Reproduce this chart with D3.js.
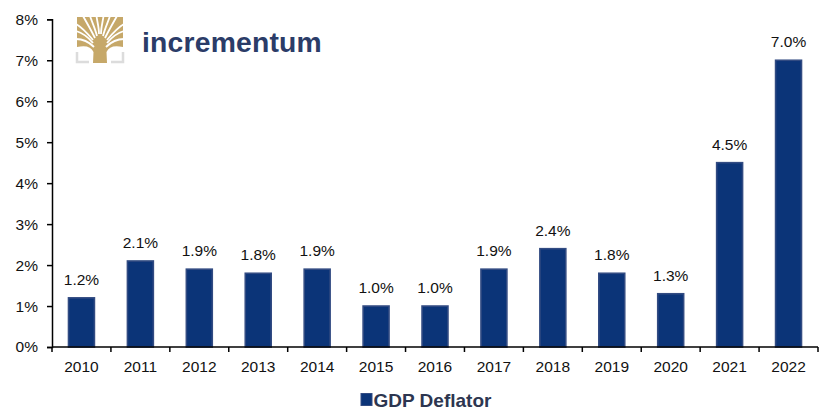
<!DOCTYPE html>
<html><head><meta charset="utf-8">
<script src="https://cdn.jsdelivr.net/npm/d3@7"></script>
<style>
body{margin:0;background:#fff;}
text{font-family:"Liberation Sans",Arial,sans-serif;}
</style></head>
<body><svg id="c" width="831" height="410"></svg>
<script>
const years = ["2010","2011","2012","2013","2014","2015","2016","2017","2018","2019","2020","2021","2022"];
const gdpDeflator = [1.2,2.1,1.9,1.8,1.9,1.0,1.0,1.9,2.4,1.8,1.3,4.5,7.0];
const yTicks = [0,1,2,3,4,5,6,7,8];
const seriesName = "GDP Deflator";

const svg = d3.select("#c");
const plotLeft = 52, plotRight = 818, plotTop = 19.3, plotBottom = 347;
const x = d3.scaleBand().domain(years).range([plotLeft,plotRight]).paddingInner(0.56).paddingOuter(0.28);
const y = d3.scaleLinear().domain([0,8]).range([plotBottom,plotTop]);

// bars
svg.append("g").selectAll("rect").data(gdpDeflator).join("rect")
  .attr("x",(d,i)=>x(years[i]))
  .attr("width",x.bandwidth())
  .attr("y",d=>y(d))
  .attr("height",d=>plotBottom-y(d))
  .attr("fill","#0b3478").attr("stroke","#324b82").attr("stroke-width",1.6);

// labels
svg.append("g").selectAll("text").data(gdpDeflator).join("text")
  .attr("x",(d,i)=>x(years[i])+x.bandwidth()/2)
  .attr("y",d=>y(d)-13)
  .attr("text-anchor","middle").attr("font-size",15.5).attr("fill","#111")
  .text(d=>d.toFixed(1)+"%");

// y axis
const ya = svg.append("g").attr("transform",`translate(${plotLeft},0)`)
  .call(d3.axisLeft(y).tickValues(yTicks).tickSize(5).tickPadding(9).tickFormat(d=>d+"%"));
ya.select(".domain").attr("stroke","#000").attr("stroke-width",1.5);
ya.selectAll(".tick line").attr("stroke","#000").attr("stroke-width",1.5);
ya.selectAll("text").attr("font-size",15.5).attr("fill","#111").attr("font-family","Liberation Sans, Arial, sans-serif");

// x axis
const xBoundary = d3.scaleLinear().domain([0,years.length]).range([plotLeft,plotRight]);
const xa = svg.append("g").attr("transform",`translate(0,${plotBottom})`);
xa.append("line").attr("x1",plotLeft).attr("x2",plotRight).attr("stroke","#000").attr("stroke-width",1.5);
xa.selectAll("line.t").data(d3.range(years.length+1)).join("line").attr("class","t")
  .attr("x1",d=>xBoundary(d)).attr("x2",d=>xBoundary(d)).attr("y1",0).attr("y2",5)
  .attr("stroke","#000").attr("stroke-width",1.5);
xa.selectAll("text").data(years).join("text")
  .attr("x",d=>x(d)+x.bandwidth()/2).attr("y",25)
  .attr("text-anchor","middle").attr("font-size",15.5).attr("fill","#111").text(d=>d);

// legend
const lg = svg.append("g");
lg.append("rect").attr("x",361).attr("y",393.5).attr("width",11).attr("height",12)
  .attr("fill","#0b3478").attr("stroke","#324b82").attr("stroke-width",1);
lg.append("text").attr("x",373.5).attr("y",406.5).attr("font-size",19).attr("font-weight","bold")
  .attr("fill","#2d3650").text(seriesName);

// logo
const logo = svg.append("g");
const gold = "#c6a869";
logo.append("path").attr("d","M77,52 V62 H89 M111,62 H123 V52").attr("fill","none").attr("stroke","#dcdcdc").attr("stroke-width",2.5);
logo.append("path").attr("d","M77,17 H123 V47 Q110,44 106.5,52 L107,63 H93 L93.5,52 Q90,44 77,47 Z").attr("fill",gold);
const gaps = [
 "M97,36 C95,28 92,22 90,16",
 "M99,34 C99,27 97,21 96.5,16",
 "M101,34 C101,27 103,21 103.5,16",
 "M103,36 C105,28 108,22 110,16",
 "M95,38 C91,30 87,23 83,16",
 "M105,38 C109,30 113,23 117,16",
 "M93,40 C88,34 83,28 76,24",
 "M107,40 C112,34 117,28 124,24",
 "M93,43 C88,37 83,33 76,31",
 "M107,43 C112,37 117,33 124,31",
 "M94,47 C89,42 83,39 76,39",
 "M106,47 C111,42 117,39 124,39"
];
logo.selectAll("path.g").data(gaps).join("path").attr("class","g").attr("d",d=>d)
  .attr("fill","none").attr("stroke","#fff").attr("stroke-width",1.8);
logo.append("text").attr("x",142).attr("y",51.5).attr("font-size",28.3).attr("font-weight","bold")
  .attr("fill","#2b3c68").attr("letter-spacing",0.2).text("incrementum");
</script></body></html>
